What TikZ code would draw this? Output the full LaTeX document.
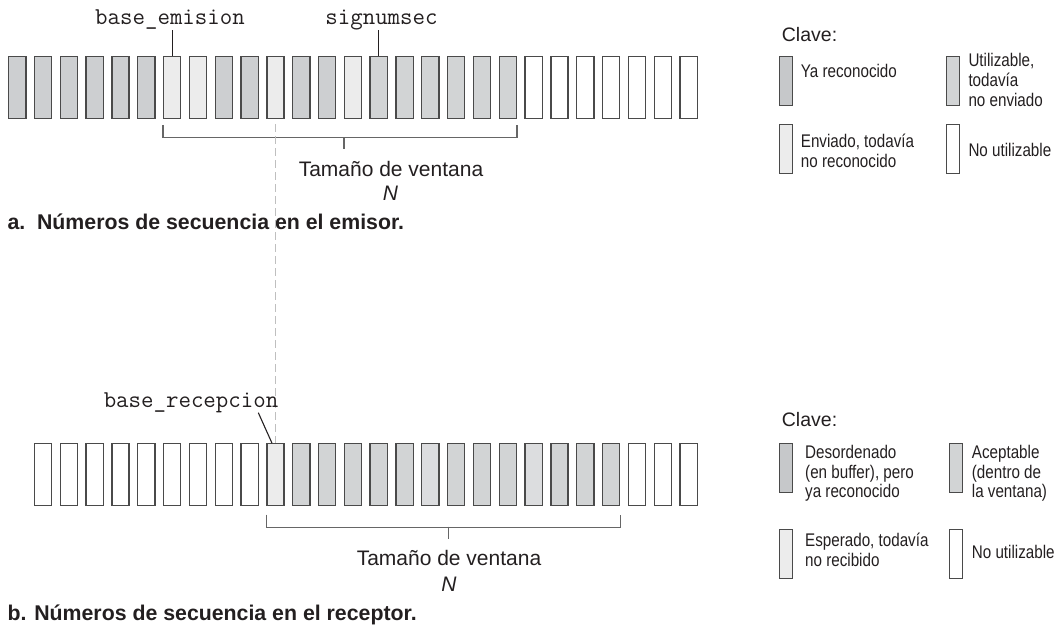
\documentclass[tikz,border=0pt]{standalone}
\usepackage{fontspec}
\setmainfont{Liberation Sans}
\newfontfamily\narrowfont[FakeStretch=0.83]{Liberation Sans}
\usetikzlibrary{calc}
\definecolor{ack}{HTML}{CDCFD1}
\definecolor{use}{HTML}{D2D4D5}
\definecolor{sent}{HTML}{ECECEC}
\definecolor{acc}{HTML}{DCDDDF}
\definecolor{keydark}{HTML}{C6C8CA}
\definecolor{cellborder}{HTML}{4A4A4A}
\definecolor{txt}{HTML}{231F20}
\tikzset{
  cell/.style={draw=cellborder, line width=1.3pt, minimum width=17.2pt, minimum height=62pt, inner sep=0pt},
  keybox/.style={draw=cellborder, line width=1.2pt, minimum width=13pt, minimum height=49pt, inner sep=0pt},
  lead/.style={draw=txt, line width=1.1pt},
  brk/.style={draw=black!60, line width=1.2pt},
  dashline/.style={draw=black!25, line width=1.3pt, dash pattern=on 8pt off 4pt},
  mono/.style={text=txt, inner sep=0pt, anchor=base, font=\ttfamily\fontsize{24.2}{26}\selectfont},
  big/.style={text=txt, inner sep=0pt, anchor=base, font=\fontsize{21}{24}\selectfont},
  captxt/.style={text=txt, inner sep=0pt, anchor=base west, font=\bfseries\fontsize{21.3}{24}\selectfont},
  clave/.style={text=txt, inner sep=0pt, anchor=base west, font=\fontsize{19.5}{22}\selectfont},
  keytext/.style={text=txt, inner sep=0pt, anchor=base west, align=left, font=\narrowfont\fontsize{18.3}{19.7}\selectfont},
}
\begin{document}
\begin{tikzpicture}[x=1pt,y=-1pt]
\useasboundingbox (0,0) rectangle (1056,629);

% ---- sender row
\foreach \c [count=\i from 0] in {ack,ack,ack,ack,ack,ack,sent,sent,ack,ack,sent,ack,ack,sent,use,use,use,use,use,use,white,white,white,white,white,white,white}
  \node[cell, fill=\c] (t\i) at ({17.25+25.82*\i},87.75) {};

% ---- receiver row
\foreach \c [count=\i from 0] in {white,white,white,white,white,white,white,white,white,sent,use,use,use,use,use,acc,use,use,use,acc,use,use,use,white,white,white}
  \node[cell, fill=\c] (b\i) at ({17.25+25.82*(\i+1)},474.7) {};

% ---- labels sender
\node[mono] (lbe) at (170,24) {base\_emision};
\node[mono] (lsn) at (381.5,24) {signumsec};
\draw[lead] (t6.north) -- ++(0,-26);
\draw[lead] (t14.north) -- ++(0,-26);

% bracket sender
\draw[brk] ([yshift=-5.5pt]t6.south west) -- ++(0,12.7) -| ([yshift=-5.5pt]t19.south east);
\coordinate (tk) at (344,137.1);
\draw[brk] (tk) -- ++(0,12.3);
\node[big] (wa) at (391,176) {Tamaño de ventana};
\node[big] (na) at (390.5,200) {\itshape N};
\node[captxt] (capa) at (7.3,229) {a.\ \ Números de secuencia en el emisor.};

% dashed alignment line
\draw[dashline] ([yshift=-5pt]t10.south) -- (b9.north);

% ---- labels receiver
\node[mono] (lbr) at (191,407.7) {base\_recepcion};
\coordinate (lbrend) at (258.3,412.7);
\draw[lead] (lbrend) -- ([xshift=-3.5pt]b9.north);

% bracket receiver
\draw[brk] ([yshift=-8.3pt]b9.south west) -- ++(0,12.7) -| ([yshift=-8.3pt]b22.south east);
\coordinate (bk) at (448.3,526.7);
\draw[brk] (bk) -- ++(0,12.6);
\node[big] (wb) at (449,565) {Tamaño de ventana};
\node[big] (nb) at (449,591.7) {\itshape N};
\node[captxt] (capb) at (7.3,620.7) {b. Números de secuencia en el receptor.};

% ---- key sender
\node[clave] (ka) at (781.7,41.7) {Clave:};
\node[keybox, fill=keydark] (ka1) at (786.3,81) {};
\node[keybox, fill=use] (ka2) at (953.3,81) {};
\node[keybox, fill=sent] (ka3) at (786.3,148.8) {};
\node[keybox, fill=white] (ka4) at (953.3,148.8) {};
\node[keytext] (kat1) at (800.7,77.3) {Ya reconocido};
\node[keytext] (kat2) at (968.3,106) {Utilizable,\\todavía\\no enviado};
\node[keytext] (kat3) at (800.7,167.3) {Enviado, todavía\\no reconocido};
\node[keytext] (kat4) at (968.3,156.7) {No utilizable};

% ---- key receiver
\node[clave] (kb) at (781.7,426.7) {Clave:};
\node[keybox, fill=keydark] (kb1) at (786.3,468.3) {};
\node[keybox, fill=use] (kb2) at (956.3,468.3) {};
\node[keybox, fill=sent] (kb3) at (786.3,553.7) {};
\node[keybox, fill=white] (kb4) at (956.3,553.7) {};
\node[keytext] (kbt1) at (805,497.7) {Desordenado\\(en buffer), pero\\ya reconocido};
\node[keytext] (kbt2) at (971.7,497.7) {Aceptable\\(dentro de\\la ventana)};
\node[keytext] (kbt3) at (805,566.4) {Esperado, todavía\\no recibido};
\node[keytext] (kbt4) at (971.7,558.3) {No utilizable};
\end{tikzpicture}
\end{document}
